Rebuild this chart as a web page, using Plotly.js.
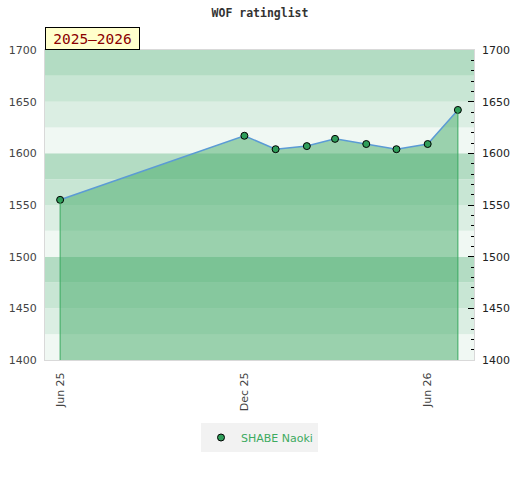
<!DOCTYPE html>
<html>
<head>
<meta charset="utf-8">
<script src="https://cdn.plot.ly/plotly-3.0.1.min.js"></script>
<style>html,body{margin:0;padding:0;background:#fff;}#chart{width:520px;height:480px;}</style>
</head>
<body>
<div id="chart"></div>
<script>
// ---- data ----
var playerName = 'SHABE Naoki';
var periodLabel = '2025\u20132026';
var chartTitle = 'WOF ratinglist';
var dates = ['2025-06-01','2025-12-01','2026-01-01','2026-02-01','2026-03-01','2026-04-01','2026-05-01','2026-06-01','2026-07-01'];
var ratings = [1555, 1617, 1604, 1607, 1614, 1609, 1604, 1609, 1642];
var xTickVals = ['2025-06-01','2025-12-01','2026-06-01'];
var xTickText = ['Jun 25','Dec 25','Jun 26'];
var xRange = ['2025-05-17','2026-07-17'];
var yRange = [1400, 1700];
var yTickVals = [1400, 1450, 1500, 1550, 1600, 1650, 1700];
var bandStep = 25;
var bandColors = ['#f0f8f3','#dbeee3','#c8e6d4','#b3dcc3']; // bottom to top within each 100

// ---- build ----
var shapes = [];
for (var b = yRange[0], i = 0; b < yRange[1]; b += bandStep, i++) {
  shapes.push({type:'rect', xref:'paper', x0:0, x1:1, yref:'y', y0:b, y1:b+bandStep,
    fillcolor: bandColors[i % bandColors.length], line:{width:0}, layer:'below'});
}
var n = dates.length;
var traces = [
  {x: dates, y: ratings, type:'scatter', mode:'lines', fill:'tozeroy',
   fillcolor:'rgba(68,170,103,0.5)', line:{width:0}, hoverinfo:'skip', showlegend:false},
  {x: [dates[0], dates[0], null, dates[n-1], dates[n-1]],
   y: [yRange[0], ratings[0], null, yRange[0], ratings[n-1]],
   type:'scatter', mode:'lines', line:{color:'#3aa860', width:1}, showlegend:false, hoverinfo:'skip', yaxis:'y2'},
  {x: dates, y: ratings, type:'scatter', mode:'lines', line:{color:'#5b9bd5', width:1.5}, showlegend:false},
  {x: dates, y: ratings, type:'scatter', mode:'markers', name: playerName,
   marker:{color:'#2f9e5a', size:7, line:{color:'#000', width:1}}}
];
var layout = {
  width:520, height:480,
  margin:{l:45, r:46, t:50, b:120},
  paper_bgcolor:'#fff', plot_bgcolor:'#fff',
  font:{family:'DejaVu Sans', size:11, color:'#444'},
  title:{text: chartTitle, x:0.5, xanchor:'center', y:0.973, yanchor:'middle', yref:'container',
    font:{family:'DejaVu Sans Mono', size:11.5, color:'#333', weight:'bold'}},
  xaxis:{type:'date', range:xRange, tickvals:xTickVals, ticktext:xTickText, tickangle:-90,
    showgrid:false, zeroline:false, showline:true, mirror:true, linecolor:'#d9d9d9', linewidth:1,
    ticks:'', ticklabelstandoff:7, tickfont:{size:11, color:'#444'}, fixedrange:true},
  yaxis:{range:yRange, tickvals:yTickVals, showgrid:false, zeroline:false, showline:true, mirror:true,
    linecolor:'#d9d9d9', linewidth:1, ticks:'', ticklabelstandoff:5, tickfont:{size:11, color:'#444'}, fixedrange:true},
  yaxis2:{range:yRange, overlaying:'y', side:'right', tickvals:yTickVals, showgrid:false, zeroline:false,
    ticks:'inside', ticklen:6, tickcolor:'#000', tickwidth:1, ticklabelstandoff:7,
    minor:{dtick:10, ticks:'inside', ticklen:3, tickcolor:'#000', tickwidth:1, showgrid:false},
    tickfont:{size:11, color:'#222'}, fixedrange:true},
  shapes: shapes,
  showlegend:true,
  legend:{orientation:'h', x:0.5, xanchor:'center', y:-0.25, yanchor:'middle',
    bgcolor:'#f2f2f2', font:{size:11, color:'#3daa5f'}, itemwidth:30},
  annotations:[{text: periodLabel, xref:'paper', yref:'paper', x:0, y:1, xanchor:'left', yanchor:'bottom',
    showarrow:false, bgcolor:'#ffffcc', bordercolor:'#000', borderwidth:1, borderpad:2,
    width:89, height:17, font:{family:'DejaVu Sans Mono', size:14.5, color:'#8b0000'}}]
};
Plotly.newPlot('chart', traces, layout, {displayModeBar:false, staticPlot:true});
</script>
</body>
</html>
